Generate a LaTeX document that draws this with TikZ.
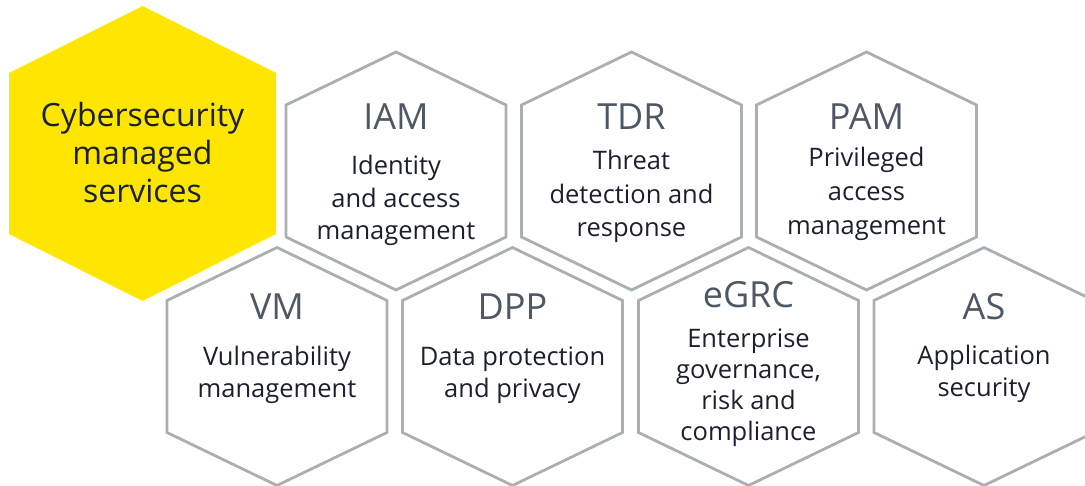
\documentclass[tikz,border=0pt]{standalone}
\usepackage{fontspec}
\setmainfont{Open Sans}
\usetikzlibrary{calc,positioning}
\usepackage{xcolor}
\definecolor{eyyellow}{RGB}{255,230,0}
\definecolor{hexgray}{RGB}{170,175,180}
\definecolor{abbrgray}{RGB}{78,88,101}
\definecolor{textdark}{RGB}{28,32,46}

\newcommand{\hexcell}[1]{%
  \draw[hexline] ($(#1)+(0,-119)$) -- ++(110,53) -- ++(0,132) -- ++(-110,53) -- ++(-110,-53) -- ++(0,-132) -- cycle;}

\begin{document}
\begin{tikzpicture}[x=1pt,y=-1pt,
  hexline/.style={draw=hexgray,line width=2.8pt},
  abbr/.style={anchor=base,text=abbrgray,font=\fontsize{36}{40}\selectfont},
  desc/.style={anchor=base,text=textdark,align=center,font=\fontsize{25.5}{32.5}\selectfont}]
\useasboundingbox (0,0) rectangle (1085,486);

\coordinate (c-csm) at (142.5,153.5);
\coordinate (c-iam) at (396,171);
\coordinate (c-tdr) at (631.5,171);
\coordinate (c-pam) at (866.5,171);
\coordinate (c-vm) at (277,366.5);
\coordinate (c-dpp) at (512.5,366.5);
\coordinate (c-egrc) at (748.5,366.5);
\coordinate (c-as) at (984,366.5);

\fill[eyyellow] ($(c-csm)+(0,-147.5)$) -- ++(133.5,67) -- ++(0,161) -- ++(-133.5,67) -- ++(-133.5,-67) -- ++(0,-161) -- cycle;
\node[desc,font=\fontsize{32}{38}\selectfont] (csm) at (142.5,203) {Cybersecurity\\managed\\services};

\hexcell{c-iam}
\node[abbr] (iam) at (396,130) {IAM};
\node[desc] (iam-txt) at (396,240) {Identity\\and access\\management};

\hexcell{c-tdr}
\node[abbr] (tdr) at (631.5,130) {TDR};
\node[desc,font=\fontsize{25.5}{33.5}\selectfont] (tdr-txt) at (631.5,237) {Threat\\detection and\\response};

\hexcell{c-pam}
\node[abbr] (pam) at (866.5,130) {PAM};
\node[desc,font=\fontsize{25.5}{34}\selectfont] (pam-txt) at (866.5,235) {Privileged\\access\\management};

\hexcell{c-vm}
\node[abbr] (vm) at (277,320) {VM};
\node[desc] (vm-txt) at (277,398) {Vulnerability\\management};

\hexcell{c-dpp}
\node[abbr] (dpp) at (512.5,320) {DPP};
\node[desc] (dpp-txt) at (512.5,398) {Data protection\\and privacy};

\hexcell{c-egrc}
\node[abbr] (egrc) at (748.5,308) {eGRC};
\node[desc,font=\fontsize{25.5}{30.7}\selectfont] (egrc-txt) at (748.5,440) {Enterprise\\governance,\\risk and\\compliance};

\hexcell{c-as}
\node[abbr] (as) at (984,320) {AS};
\node[desc] (as-txt) at (984,397) {Application\\security};
\end{tikzpicture}
\end{document}
